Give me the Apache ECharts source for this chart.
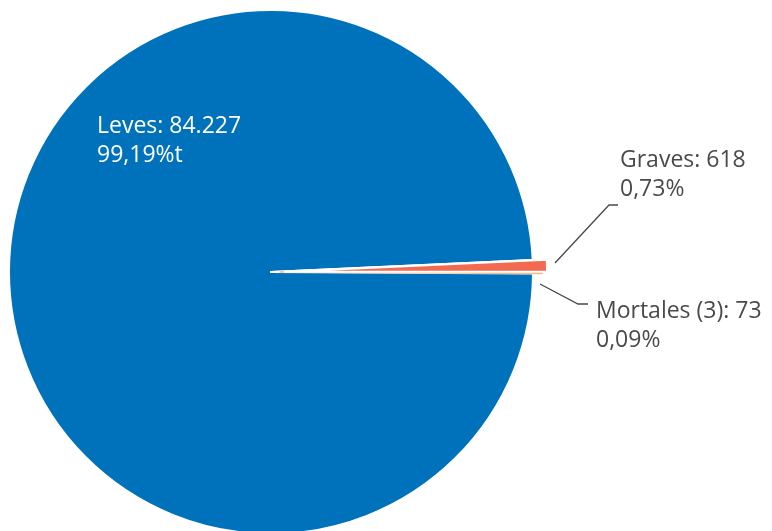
<!DOCTYPE html>
<html>
<head>
<meta charset="utf-8">
<script src="https://cdn.jsdelivr.net/npm/echarts@6/dist/echarts.min.js"></script>
<style>html,body{margin:0;padding:0;background:#fff;}#c{width:772px;height:531px;}</style>
</head>
<body>
<div id="c"></div>
<script>
const categories = ['Mortales (3)', 'Leves', 'Graves'];
const values = [73, 84227, 618];
const valueTexts = ['73', '84.227', '618'];
const percentTexts = ['0,09%', '99,19%t', '0,73%'];
const colors = ['#FBB98A', '#0072BB', '#F26A4F'];

const chart = echarts.init(document.getElementById('c'), null, {renderer: 'canvas'});

const baseData = categories.map((n, i) => ({
  name: n,
  value: values[i],
  itemStyle: {color: colors[i]},
  label: i === 1 ? {position: 'inside', color: '#fff'} : {position: 'outside', color: '#4A4A4D'},
  labelLine: {show: i !== 1}
}));
// overlay series that pull out one small slice each
function pulled(idx, border) {
  return categories.map((n, i) => ({
    name: n,
    value: values[i],
    selected: i === idx,
    itemStyle: i === idx ? Object.assign({color: colors[i]}, border) : {color: 'rgba(0,0,0,0)', borderWidth: 0}
  }));
}
const common = {
  type: 'pie',
  center: [271, 272],
  radius: 262,
  startAngle: 0,
  clockwise: true,
  silent: true
};

chart.setOption({
  animation: false,
  series: [Object.assign({}, common, {
    avoidLabelOverlap: false,
    itemStyle: {borderColor: '#fff', borderWidth: 2},
    label: {
      fontFamily: 'Open Sans',
      fontSize: 23,
      lineHeight: 29,
      align: 'left',
      formatter: p => `${p.name}: ${valueTexts[p.dataIndex]}\n${percentTexts[p.dataIndex]}`
    },
    labelLine: {lineStyle: {color: '#4A4A4D', width: 1.3}, length: 20, length2: 10},
    labelLayout: function (p) {
      if (p.dataIndex === 1) return {x: 97, y: 112, align: 'left', verticalAlign: 'top'};
      if (p.dataIndex === 2) return {x: 620, y: 146, align: 'left', verticalAlign: 'top',
        labelLinePoints: [[555, 263], [609, 205], [618, 205]]};
      return {x: 596, y: 297, align: 'left', verticalAlign: 'top',
        labelLinePoints: [[540, 284], [578, 304], [588, 304]]};
    },
    data: baseData
  }), Object.assign({}, common, {
    selectedMode: 'multiple',
    selectedOffset: 9,
    label: {show: false},
    labelLine: {show: false},
    data: pulled(0, {borderColor: colors[0], borderWidth: 1.5})
  }), Object.assign({}, common, {
    selectedMode: 'multiple',
    selectedOffset: 14,
    label: {show: false},
    labelLine: {show: false},
    data: pulled(2, {borderColor: '#fff', borderWidth: 2})
  })]
});
</script>
</body>
</html>
